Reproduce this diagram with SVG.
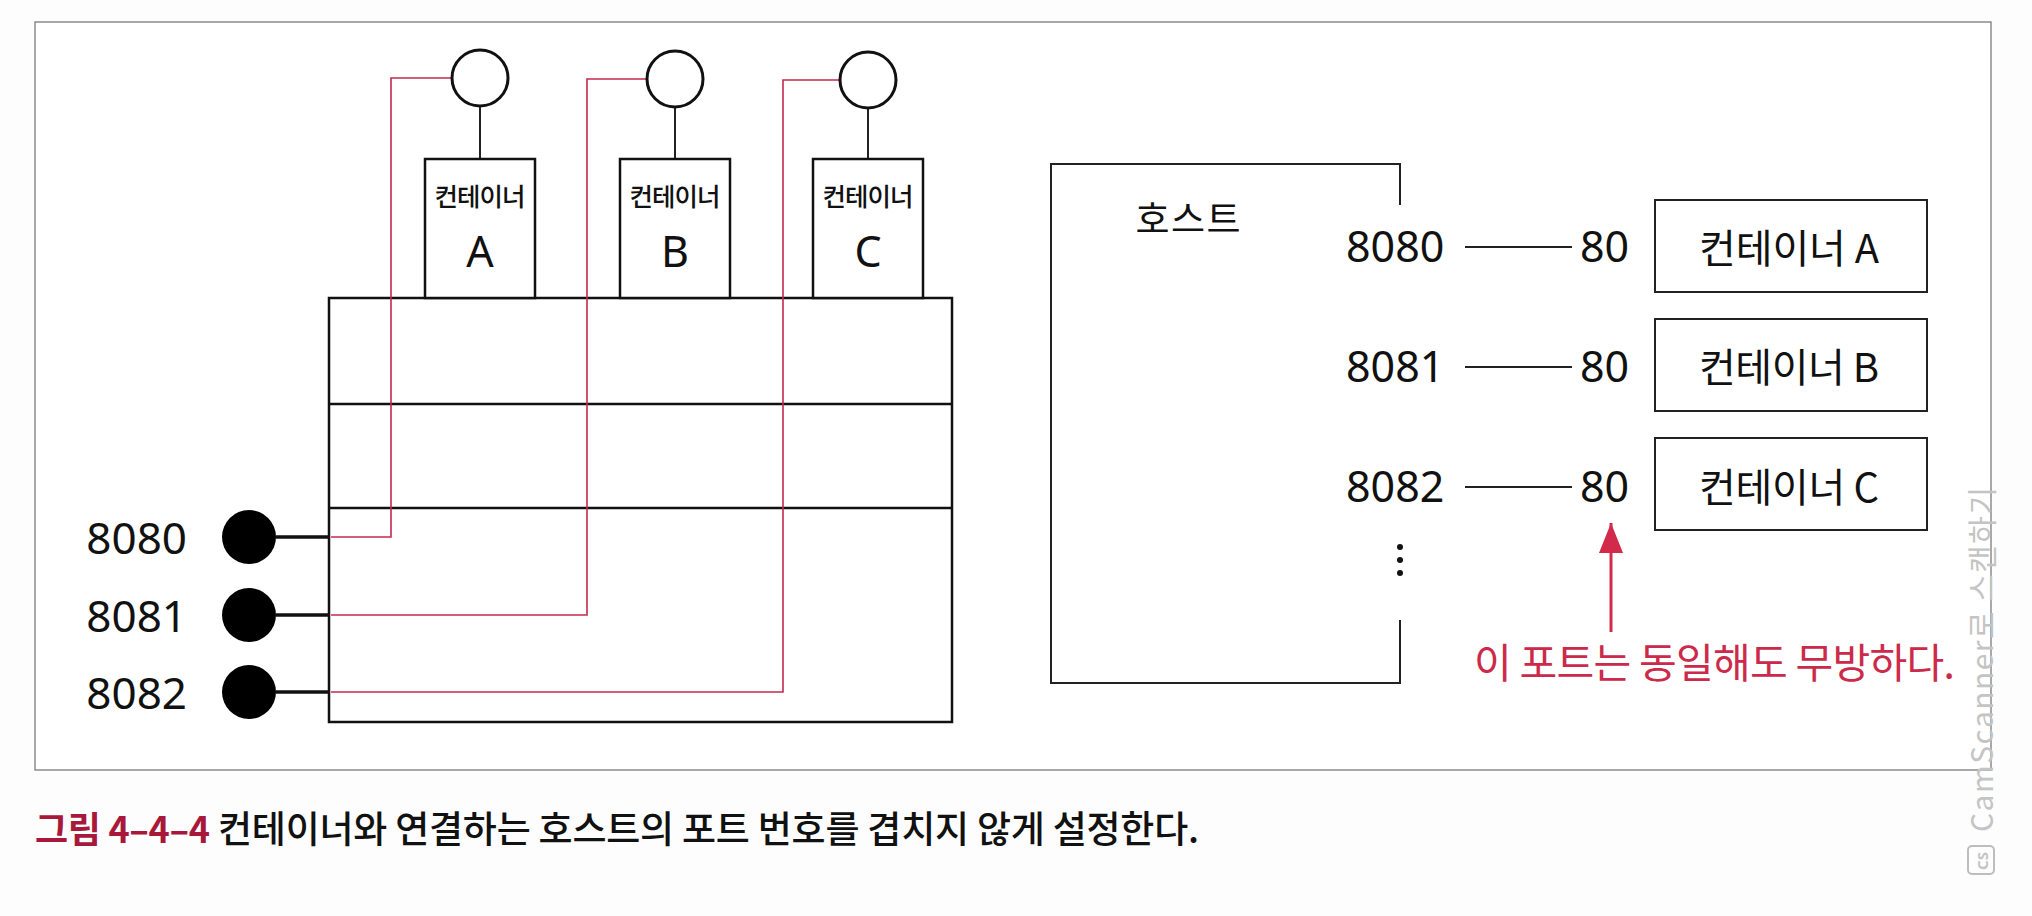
<svg xmlns="http://www.w3.org/2000/svg" width="2032" height="916" viewBox="0 0 2032 916">
<defs>
<style>
.kr{font-family:"Noto Sans CJK KR","Noto Sans",sans-serif;}
.num{font-family:"Noto Sans","Noto Sans CJK KR",sans-serif;}
.box{fill:#fff;stroke:#111;stroke-width:2.5}
.stack{fill:none;stroke:#111;stroke-width:2.5}
.hbox{fill:#fff;stroke:#222;stroke-width:2}
.port{fill:#fff;stroke:#111;stroke-width:3}
.dot{fill:#000}
.red{fill:none;stroke:#c42a4c;stroke-width:1.6}
.blk{fill:none;stroke:#111;stroke-width:3.5}
.thin{fill:none;stroke:#222;stroke-width:2}
.arrow{fill:none;stroke:#d22a4a;stroke-width:3}
</style>
<marker id="arr" viewBox="0 0 30 24" refX="30" refY="12" markerWidth="30" markerHeight="24" markerUnits="userSpaceOnUse" orient="auto">
<path d="M0,0 L30,12 L0,24 z" fill="#d22a4a"/>
</marker>
</defs>
<rect x="0" y="0" width="2032" height="916" fill="#fdfdfd"/>
<rect id="frame" x="35" y="22" width="1956" height="748" fill="#fff" stroke="#8c8c8c" stroke-width="1.5"/>

<g id="host-stack">
<rect class="stack" x="329" y="298" width="623" height="424"/>
<line class="stack" x1="329" y1="404" x2="952" y2="404"/>
<line class="stack" x1="329" y1="508" x2="952" y2="508"/>
</g>

<g id="connectors">
<path class="red" d="M452,78 H391 V537 H331"/>
<path class="red" d="M647,79 H587 V615 H331"/>
<path class="red" d="M840,80 H783 V692 H331"/>
<line class="thin" x1="480" y1="106" x2="480" y2="159" stroke-width="3"/>
<line class="thin" x1="675" y1="106" x2="675" y2="159" stroke-width="3"/>
<line class="thin" x1="868" y1="106" x2="868" y2="159" stroke-width="3"/>
<line class="blk" x1="276" y1="537" x2="329" y2="537"/>
<line class="blk" x1="276" y1="615" x2="329" y2="615"/>
<line class="blk" x1="276" y1="692" x2="329" y2="692"/>
<line class="thin" x1="1465" y1="247" x2="1572" y2="247"/>
<line class="thin" x1="1465" y1="367" x2="1572" y2="367"/>
<line class="thin" x1="1465" y1="487" x2="1572" y2="487"/>
<line class="arrow" x1="1611" y1="632" x2="1611" y2="523" marker-end="url(#arr)"/>
</g>

<g id="container-a">
<circle class="port" cx="480" cy="78" r="28"/>
<rect class="box" x="425" y="159" width="110" height="139"/>
<text class="kr" x="480" y="206" font-size="25.5" font-weight="500" text-anchor="middle" textLength="91" fill="#111">컨테이너</text>
<text class="num" x="480" y="267" font-size="43" text-anchor="middle" fill="#111">A</text>
</g>
<g id="container-b">
<circle class="port" cx="675" cy="79" r="28"/>
<rect class="box" x="620" y="159" width="110" height="139"/>
<text class="kr" x="675" y="206" font-size="25.5" font-weight="500" text-anchor="middle" textLength="91" fill="#111">컨테이너</text>
<text class="num" x="675" y="267" font-size="43" text-anchor="middle" fill="#111">B</text>
</g>
<g id="container-c">
<circle class="port" cx="868" cy="80" r="28"/>
<rect class="box" x="813" y="159" width="110" height="139"/>
<text class="kr" x="868" y="206" font-size="25.5" font-weight="500" text-anchor="middle" textLength="91" fill="#111">컨테이너</text>
<text class="num" x="868" y="267" font-size="43" text-anchor="middle" fill="#111">C</text>
</g>

<g id="port-8080">
<circle class="dot" cx="249" cy="537" r="27"/>
<text class="num" x="187" y="554" font-size="44" text-anchor="end" fill="#111">8080</text>
</g>
<g id="port-8081">
<circle class="dot" cx="249" cy="615" r="27"/>
<text class="num" x="187" y="632" font-size="44" text-anchor="end" fill="#111">8081</text>
</g>
<g id="port-8082">
<circle class="dot" cx="249" cy="692" r="27"/>
<text class="num" x="187" y="709" font-size="44" text-anchor="end" fill="#111">8082</text>
</g>

<g id="host">
<path class="thin" d="M1400,205 V164 H1051 V683 H1400 V620"/>
<text class="kr" x="1188" y="233" font-size="37" text-anchor="middle" textLength="105" fill="#111">호스트</text>
<circle cx="1400" cy="547" r="3" fill="#111"/>
<circle cx="1400" cy="560" r="3" fill="#111"/>
<circle cx="1400" cy="573" r="3" fill="#111"/>
</g>

<g id="row-a">
<text class="num" x="1346" y="262" font-size="43" fill="#111">8080</text>
<text class="num" x="1580" y="262" font-size="43" fill="#111">80</text>
<rect class="hbox" x="1655" y="200" width="272" height="92"/>
<text class="kr" x="1789" y="263" font-size="40" text-anchor="middle" textLength="180" fill="#111">컨테이너 A</text>
</g>
<g id="row-b">
<text class="num" x="1346" y="382" font-size="43" fill="#111">8081</text>
<text class="num" x="1580" y="382" font-size="43" fill="#111">80</text>
<rect class="hbox" x="1655" y="319" width="272" height="92"/>
<text class="kr" x="1789" y="382" font-size="40" text-anchor="middle" textLength="180" fill="#111">컨테이너 B</text>
</g>
<g id="row-c">
<text class="num" x="1346" y="502" font-size="43" fill="#111">8082</text>
<text class="num" x="1580" y="502" font-size="43" fill="#111">80</text>
<rect class="hbox" x="1655" y="438" width="272" height="92"/>
<text class="kr" x="1789" y="502" font-size="40" text-anchor="middle" textLength="180" fill="#111">컨테이너 C</text>
</g>

<g id="note">
<text class="kr" x="1474" y="678" font-size="41" textLength="481" fill="#cc2a4a">이 포트는 동일해도 무방하다.</text>
</g>

<g id="caption">
<text class="kr" x="35" y="843" font-size="36" font-weight="700" textLength="175" fill="#a8183a">그림 4–4–4</text>
<text class="kr" x="218" y="843" font-size="37" font-weight="500" textLength="981" fill="#111">컨테이너와 연결하는 호스트의 포트 번호를 겹치지 않게 설정한다.</text>
</g>

<g id="watermark" fill="#c4c4c4">
<text class="kr" transform="translate(1993,832) rotate(-90)" font-size="30" textLength="345">CamScanner로 스캔하기</text>
<rect x="1968" y="846" width="26" height="28" rx="4" fill="none" stroke="#bdbdbd" stroke-width="2"/>
<text class="num" transform="translate(1988,870) rotate(-90)" font-size="15" font-weight="700">CS</text>
</g>
</svg>
